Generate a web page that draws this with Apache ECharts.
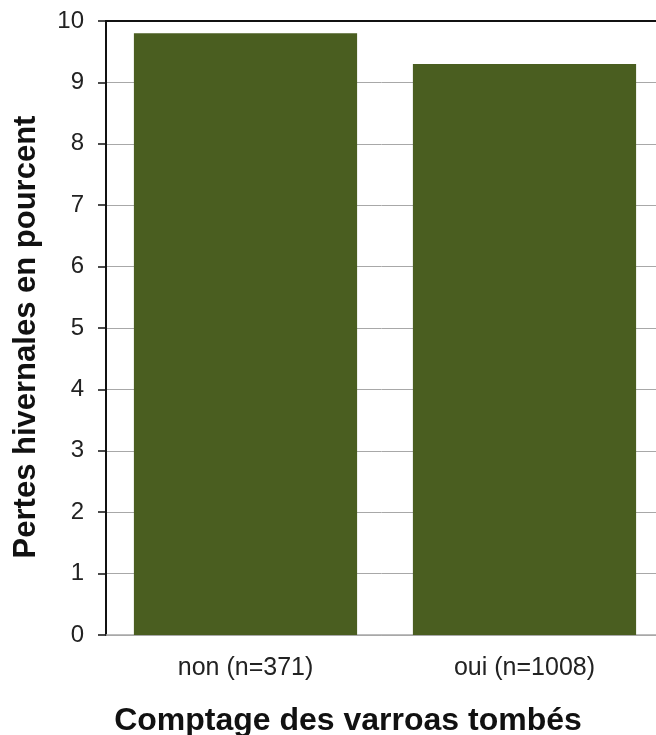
<!DOCTYPE html>
<html>
<head>
<meta charset="utf-8">
<script src="https://cdn.jsdelivr.net/npm/echarts@6/dist/echarts.min.js"></script>
<style>
  html, body { margin: 0; padding: 0; background: #fff; overflow: hidden; }
  #chart { width: 656px; height: 735px; }
</style>
</head>
<body>
<div id="chart"></div>
<script>
// Winter losses by whether fallen varroa mites were counted
const categories = ['non (n=371)', 'oui (n=1008)'];
const losses = [9.8, 9.3];
const yTicks = [0, 1, 2, 3, 4, 5, 6, 7, 8, 9, 10];

const chart = echarts.init(document.getElementById('chart'));
chart.setOption({
  animation: false,
  backgroundColor: '#ffffff',
  textStyle: { fontFamily: 'Liberation Sans, Arial, sans-serif' },
  grid: { left: 106, top: 21, width: 558, height: 614, outerBoundsMode: 'none', containLabel: false },
  xAxis: [{
    type: 'category',
    data: categories,
    position: 'bottom',
    axisLine: { show: true, lineStyle: { color: '#a8a8a8', width: 1.5 } },
    axisTick: { show: false },
    axisLabel: { color: '#222', fontSize: 25, margin: 21 },
    name: 'Comptage des varroas tombés',
    nameLocation: 'middle',
    nameGap: 70,
    nameTextStyle: { color: '#111', fontSize: 32, fontWeight: 'bold', padding: [0, 74, 0, 0] }
  }, {
    type: 'category',
    data: categories,
    position: 'top',
    axisLine: { show: true, lineStyle: { color: '#111', width: 2 } },
    axisTick: { show: false },
    axisLabel: { show: false }
  }],
  yAxis: {
    type: 'value',
    min: 0,
    max: 10,
    interval: 1,
    axisLine: { show: true, lineStyle: { color: '#111', width: 2 } },
    axisTick: { show: true, inside: false, length: 8, lineStyle: { color: '#111', width: 1.5 } },
    axisLabel: {
      color: '#222', fontSize: 24, margin: 22,
      formatter: v => (yTicks.includes(v) ? String(v) : '')
    },
    splitLine: { show: true, lineStyle: { color: '#a8a8a8', width: 1 } },
    name: 'Pertes hivernales en pourcent',
    nameLocation: 'middle',
    nameGap: 64,
    nameRotate: 90,
    nameTextStyle: { color: '#111', fontSize: 31, fontWeight: 'bold', padding: [0, 18, 0, 0] }
  },
  series: [{
    type: 'bar',
    data: losses,
    barWidth: '80%',
    itemStyle: { color: '#4a5e20' }
  }]
});
</script>
</body>
</html>
